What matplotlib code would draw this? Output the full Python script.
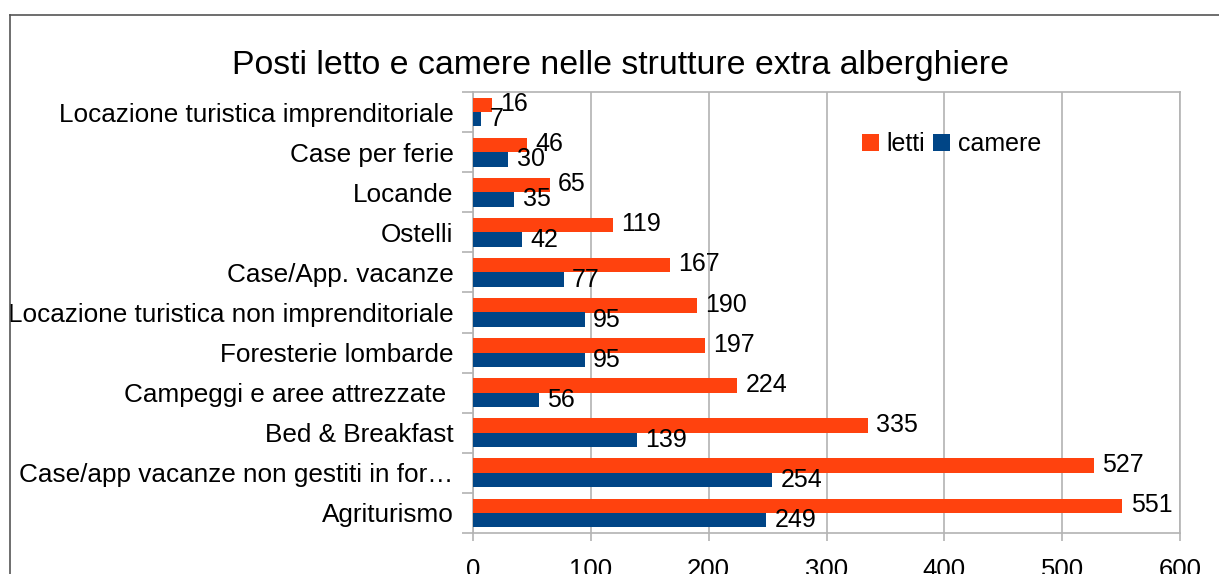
import numpy as np
import matplotlib.pyplot as plt
from matplotlib.lines import Line2D

categorie = ['Agriturismo',
             'Case/app vacanze non gestiti in for…',
             'Bed & Breakfast',
             'Campeggi e aree attrezzate ',
             'Foresterie lombarde',
             'Locazione turistica non imprenditoriale',
             'Case/App. vacanze',
             'Ostelli',
             'Locande',
             'Case per ferie',
             'Locazione turistica imprenditoriale']
letti = [551, 527, 335, 224, 197, 190, 167, 119, 65, 46, 16]
camere = [249, 254, 139, 56, 95, 95, 77, 42, 35, 30, 7]
x_ticks = [0, 100, 200, 300, 400, 500, 600]

col_letti = '#ff420e'
col_camere = '#004586'
grigio = '#b3b3b3'

plt.rcParams['font.family'] = ['Liberation Sans', 'DejaVu Sans']

fig = plt.figure(figsize=(12.19, 5.74), dpi=100)
ax = fig.add_axes([473 / 1219, 1 - 533 / 574, 707 / 1219, 441 / 574])

y = np.arange(len(categorie))
h = 0.36
ax.barh(y + h / 2, letti, height=h, color=col_letti, label='letti', zorder=3)
ax.barh(y - h / 2, camere, height=h, color=col_camere, label='camere', zorder=3)

for i in range(len(categorie)):
    ax.annotate(str(letti[i]), (letti[i], y[i] + h / 2), xytext=(6, 0.5),
                textcoords='offset points', va='center', ha='left', fontsize=18)
    ax.annotate(str(camere[i]), (camere[i], y[i] - h / 2), xytext=(6, 0),
                textcoords='offset points', va='center', ha='left', fontsize=18)

ax.set_xlim(0, 600)
ax.set_ylim(-0.5, len(categorie) - 0.5)
ax.set_xticks(x_ticks)
ax.set_xticklabels([str(v) for v in x_ticks], fontsize=18.5)
ax.set_yticks(y)
ax.set_yticklabels(categorie, fontsize=18.8)
ax.set_yticks(np.arange(-0.5, len(categorie), 1), minor=True)
ax.tick_params(axis='y', which='major', length=0, pad=14)
ax.tick_params(axis='y', which='minor', length=8, color=grigio, width=1.2)
ax.tick_params(axis='x', length=6, color=grigio, width=1.2, pad=12)

ax.grid(axis='x', color=grigio, linewidth=1.2, zorder=0)
for s in ax.spines.values():
    s.set_color(grigio)
    s.set_linewidth(1.2)

ax.legend(loc='center left', bbox_to_anchor=(0.55, 0.882), ncol=2, frameon=False,
          fontsize=18, handlelength=0.7, handleheight=0.7, handletextpad=0.3,
          columnspacing=0.3, borderpad=0, borderaxespad=0)

fig.text(0.509, 1 - 66 / 574, 'Posti letto e camere nelle strutture extra alberghiere',
         ha='center', va='center', fontsize=24.4)

# bordo del grafico (tagliato a destra e in basso)
fig.add_artist(Line2D([9.5 / 1219, 1.0], [1 - 14.5 / 574, 1 - 14.5 / 574],
                      transform=fig.transFigure, color='#555555', linewidth=1.2))
fig.add_artist(Line2D([9.5 / 1219, 9.5 / 1219], [0, 1 - 14.5 / 574],
                      transform=fig.transFigure, color='#555555', linewidth=1.2))

fig.savefig('out.png', dpi=100)
